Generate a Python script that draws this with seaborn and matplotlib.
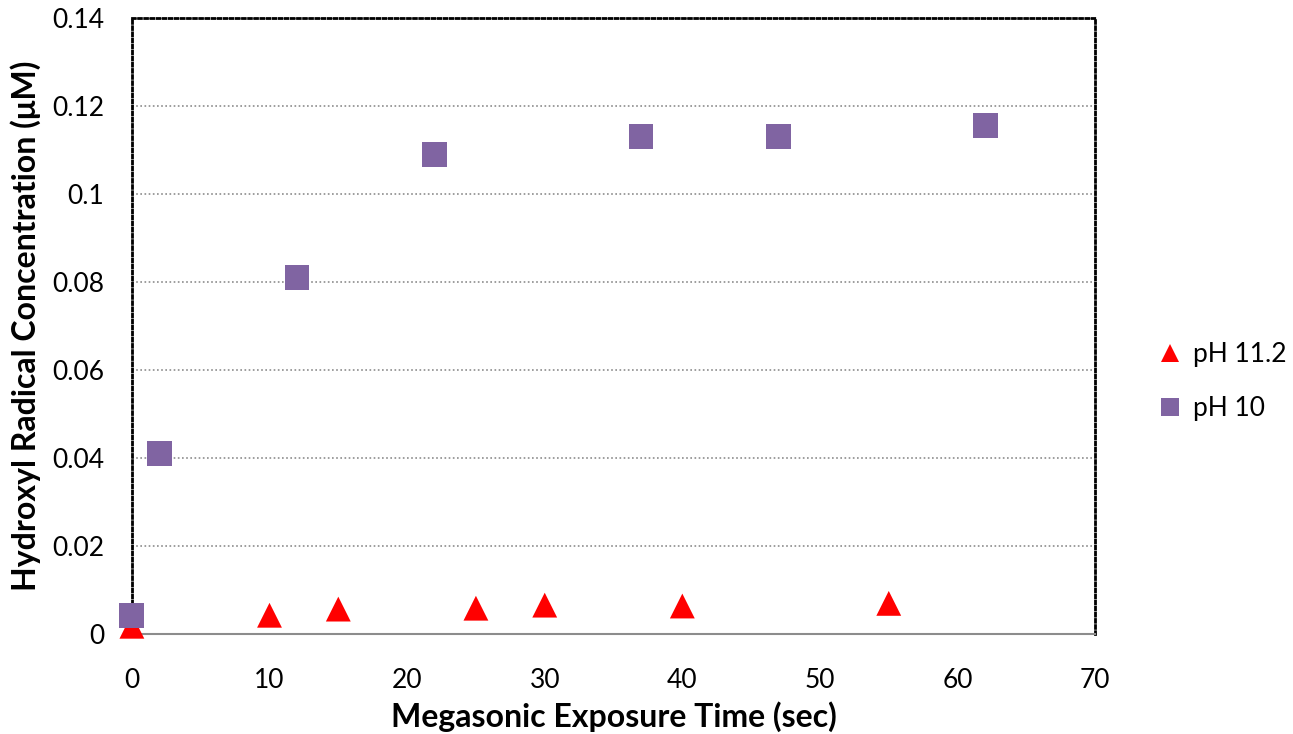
import numpy as np
import pandas as pd
import seaborn as sns
from matplotlib import pyplot as plt

# pH 11.2 series (triangles)
t_ph112 = [0, 10, 15, 25, 30, 40, 55]
c_ph112 = [0.0018, 0.0043, 0.0057, 0.0059, 0.0066, 0.0064, 0.0070]

# pH 10 series (squares)
t_ph10 = [0, 2, 12, 22, 37, 47, 62]
c_ph10 = [0.0043, 0.041, 0.081, 0.109, 0.113, 0.113, 0.1155]

series_names = ['pH 11.2', 'pH 10']
x_ticks = [0, 10, 20, 30, 40, 50, 60, 70]
y_ticks = [0, 0.02, 0.04, 0.06, 0.08, 0.1, 0.12, 0.14]
y_tick_labels = ['0', '0.02', '0.04', '0.06', '0.08', '0.1', '0.12', '0.14']

df = pd.DataFrame({
    'time': t_ph112 + t_ph10,
    'conc': c_ph112 + c_ph10,
    'series': [series_names[0]] * len(t_ph112) + [series_names[1]] * len(t_ph10),
})

sns.set_style('white')
plt.rcParams['font.family'] = ['Lato', 'DejaVu Sans']
plt.rcParams['text.color'] = 'black'
plt.rcParams['axes.labelcolor'] = 'black'

fig = plt.figure(figsize=(12.93, 7.34), dpi=100)
ax = fig.add_axes([0.102, 0.136, 0.745, 0.8395])

sns.scatterplot(data=df, x='time', y='conc', hue='series', style='series',
                hue_order=series_names, style_order=series_names,
                palette={'pH 11.2': '#FF0000', 'pH 10': '#8064A2'},
                markers={'pH 11.2': '^', 'pH 10': 's'},
                s=320, linewidth=0, ax=ax, clip_on=False, zorder=3)

ax.set_xlim(0, 70)
ax.set_ylim(0, 0.14)
ax.set_xticks(x_ticks)
ax.set_yticks(y_ticks)
ax.set_yticklabels(y_tick_labels)
ax.tick_params(axis='both', labelsize=19, length=0, colors='black')
ax.tick_params(axis='x', pad=24)
ax.tick_params(axis='y', pad=20)

ax.grid(axis='y', color='#8c8c8c', linestyle=(0, (1, 1.5)), linewidth=1.2)
ax.grid(axis='x', visible=False)
ax.set_axisbelow(True)

for side in ['left', 'top', 'right']:
    ax.spines[side].set_visible(True)
    ax.spines[side].set_color('black')
    ax.spines[side].set_linestyle((0, (1, 1.2)))
    ax.spines[side].set_linewidth(2)
ax.spines['bottom'].set_color('#8c8c8c')
ax.spines['bottom'].set_linestyle('-')
ax.spines['bottom'].set_linewidth(1.5)

ax.set_xlabel('Megasonic Exposure Time (sec)', fontsize=23, fontweight='bold', labelpad=6)
ax.set_ylabel('Hydroxyl Radical Concentration (\u03bcM)', fontsize=23, fontweight='bold', labelpad=8)

leg = ax.legend(loc='center left', bbox_to_anchor=(1.05, 0.41), frameon=False,
                fontsize=19, handlelength=1.0, handletextpad=0.4,
                labelspacing=1.1, markerscale=0.75, borderpad=0)
leg.set_title(None)

fig.savefig('out.png', dpi=100)
